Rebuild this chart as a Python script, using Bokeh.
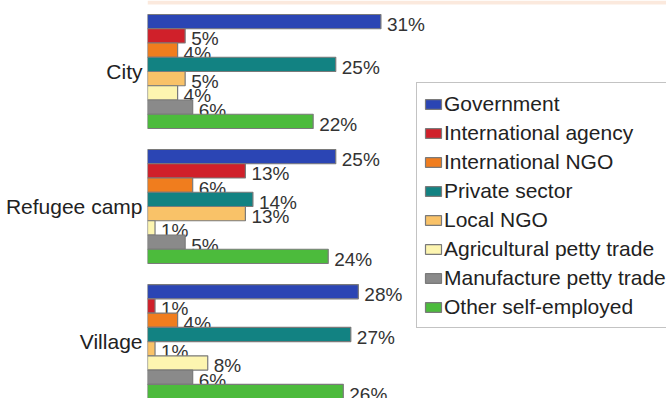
from bokeh.plotting import figure
from bokeh.models import Range1d, FixedTicker, Legend, LegendItem, ColumnDataSource, BoxAnnotation
from bokeh.embed import file_html
from bokeh.resources import INLINE
from bokeh.core.properties import value

# ---- data ----
locations = ["City", "Refugee camp", "Village"]
sectors = ["Government", "International agency", "International NGO", "Private sector",
           "Local NGO", "Agricultural petty trade", "Manufacture petty trade", "Other self-employed"]
city = [31, 5, 4, 25, 5, 4, 6, 22]
refugee_camp = [25, 13, 6, 14, 13, 1, 5, 24]
village = [28, 1, 4, 27, 1, 8, 6, 26]
colors = ["#2B45B4", "#D0202A", "#F07D1E", "#128282", "#F9C268", "#FDF5B0", "#8A8A8A", "#4CBB3C"]

series_by_loc = [city, refugee_camp, village]

# ---- layout constants ----
W, H = 666, 398
LEFT = 147
BAR_PX = 14.25
PX_PER_PCT = 7.53
first_top = 14 / BAR_PX
group_pitch = 9.475

p = figure(width=W, height=H, output_backend="svg", toolbar_location=None,
           x_range=Range1d(0, (W - LEFT) / PX_PER_PCT), y_range=Range1d(H / BAR_PX, 0),
           min_border_left=LEFT, min_border_right=0, min_border_top=0, min_border_bottom=0)
p.outline_line_color = None
p.xgrid.visible = False
p.ygrid.visible = False
p.xaxis.visible = False
p.background_fill_color = "white"
p.border_fill_color = "white"

# faint banner strip along the top edge (as in the scanned reference)
p.add_layout(BoxAnnotation(top=0, bottom=4 / BAR_PX, fill_color="#FAE4D4",
                           fill_alpha=0.8, line_color=None, level="underlay"))

font = "Liberation Sans"
items = []
for j, sec in enumerate(sectors):
    vals = [s[j] for s in series_by_loc]
    ys = [first_top + g * group_pitch + j + 0.5 for g in range(len(locations))]
    src = ColumnDataSource(dict(y=ys, right=vals, lab=[f"{v}%" for v in vals]))
    r = p.hbar(y="y", right="right", left=0, height=1.0, source=src,
               fill_color=colors[j], line_color="#7A7A7A", line_width=1.2)
    p.text(x="right", y="y", text="lab", source=src, x_offset=6, y_offset=3,
           text_baseline="middle", text_align="left", text_font=value(font),
           text_font_size="19px", text_color="#333333")
    items.append(LegendItem(label=sec, renderers=[r]))

centers = [first_top + g * group_pitch + 4 for g in range(len(locations))]
p.yaxis.ticker = FixedTicker(ticks=centers)
p.yaxis.major_label_overrides = {c: name for c, name in zip(centers, locations)}
p.yaxis.axis_line_color = None
p.yaxis.major_tick_line_color = None
p.yaxis.minor_tick_line_color = None
p.yaxis.major_tick_out = 0
p.yaxis.major_label_standoff = 5
p.yaxis.major_label_text_font = font
p.yaxis.major_label_text_font_size = "21px"
p.yaxis.major_label_text_color = "#222222"

legend = Legend(items=items, location=(269, 70), padding=6, margin=0, spacing=0,
                label_height=29, glyph_height=12, glyph_width=20, label_standoff=1,
                label_text_font=font, label_text_font_size="21px", label_text_color="#222222",
                border_line_color="#888888", border_line_width=1.5,
                background_fill_color="white", background_fill_alpha=1.0)
p.add_layout(legend, "center")

open("out.html", "w").write(file_html(p, INLINE))
